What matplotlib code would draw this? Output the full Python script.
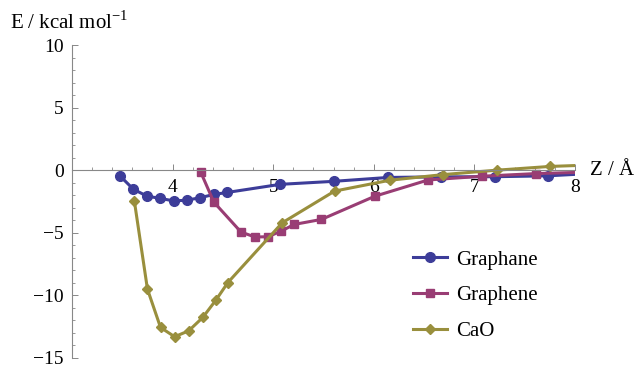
import numpy as np
import matplotlib
matplotlib.use("Agg")
import matplotlib.pyplot as plt
from matplotlib.ticker import MultipleLocator
import matplotlib.transforms as mtransforms

plt.rcParams['font.family'] = ['Liberation Serif', 'DejaVu Serif']
plt.rcParams['mathtext.fontset'] = 'custom'
plt.rcParams['mathtext.rm'] = 'Liberation Serif'

# interaction energy curves, Z in angstrom, E in kcal/mol
z_graphane = [3.48, 3.61, 3.745, 3.875, 4.01, 4.14, 4.27, 4.41, 4.54,
              5.07, 5.60, 6.14, 6.67, 7.20, 7.73, 8.26]
e_graphane = [-0.48, -1.52, -2.07, -2.25, -2.45, -2.40, -2.20, -1.94, -1.78,
              -1.13, -0.89, -0.58, -0.53, -0.52, -0.45, -0.22]

z_graphene = [4.28, 4.41, 4.68, 4.82, 4.95, 5.08, 5.21, 5.48, 6.01,
              6.54, 7.08, 7.61, 8.14]
e_graphene = [-0.16, -2.55, -4.94, -5.34, -5.31, -4.86, -4.33, -3.93, -2.08,
              -0.78, -0.48, -0.27, -0.15]

z_cao = [3.62, 3.75, 3.88, 4.02, 4.16, 4.30, 4.43, 4.55, 5.09, 5.61,
         6.16, 6.69, 7.22, 7.75, 8.28]
e_cao = [-2.47, -9.5, -12.56, -13.3, -12.83, -11.76, -10.38, -8.97, -4.2,
         -1.67, -0.8, -0.35, 0.0, 0.3, 0.45]

c_blue = '#3d3d99'
c_mag = '#993d74'
c_gold = '#998f3d'

fig = plt.figure(figsize=(6.36, 3.67), dpi=100)
ax = fig.add_axes([72/636, 1 - 358/367, 503/636, 313/367])

ax.plot(z_graphane, e_graphane, color=c_blue, lw=2.2, marker='o', ms=7, label='Graphane')
ax.plot(z_graphene, e_graphene, color=c_mag, lw=2.2, marker='s', ms=6, label='Graphene')
ax.plot(z_cao, e_cao, color=c_gold, lw=2.2, marker='D', ms=5.5, label='CaO')

ax.set_xlim(3, 8)
ax.set_ylim(-15, 10)

# axes cross at E = 0
ax.spines['top'].set_visible(False)
ax.spines['right'].set_visible(False)
ax.spines['bottom'].set_position(('data', 0))
for s in ('left', 'bottom'):
    ax.spines[s].set_color('#888888')
    ax.spines[s].set_linewidth(0.8)

ax.xaxis.set_major_locator(MultipleLocator(1))
ax.xaxis.set_minor_locator(MultipleLocator(0.2))
ax.yaxis.set_major_locator(MultipleLocator(5))
ax.yaxis.set_minor_locator(MultipleLocator(1))
ax.set_xticks([4, 5, 6, 7, 8])
ax.tick_params(which='both', direction='in', color='#888888', labelsize=14)
ax.tick_params(which='major', length=4, width=0.7, pad=6)
ax.tick_params(which='minor', length=2, width=0.6)

ax.legend(loc='upper left', bbox_to_anchor=(0.677, 0.345), frameon=False,
          fontsize=15, handlelength=1.65, handletextpad=0.45, labelspacing=0.78,
          borderpad=0, borderaxespad=0)

fig.text(10/636, 1 - 29/367, r'E / kcal mol$^{\mathregular{-1}}$', fontsize=15,
         va='baseline', ha='left')
trans = mtransforms.blended_transform_factory(ax.transAxes, ax.transData)
ax.text(1.03, 0, 'Z / Å', transform=trans, fontsize=15, va='center', ha='left')

fig.savefig('out.png', dpi=100)
